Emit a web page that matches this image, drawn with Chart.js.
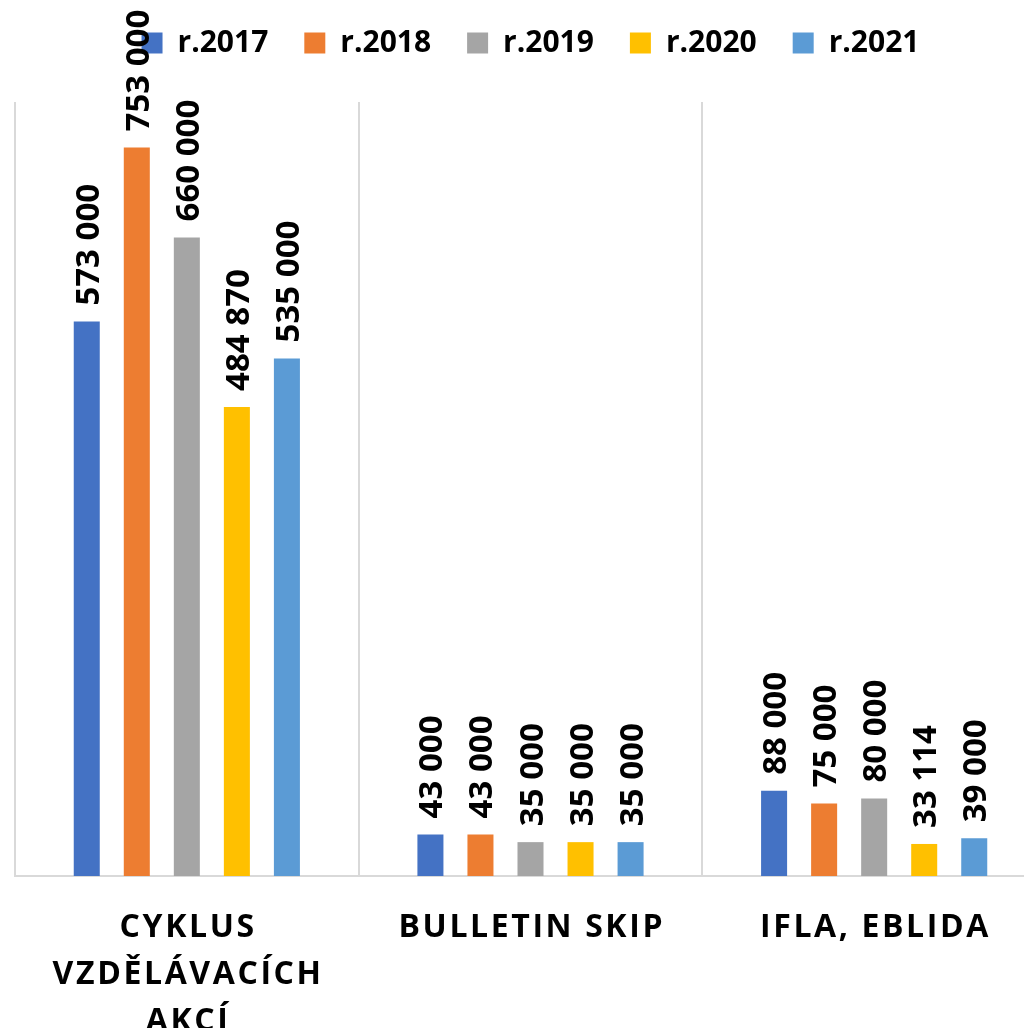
<!DOCTYPE html>
<html>
<head>
<meta charset="utf-8">
<script src="https://cdn.jsdelivr.net/npm/chart.js@4"></script>
<style>
  html, body { margin: 0; padding: 0; background: #fff; overflow: hidden; }
  #wrap { position: absolute; left: 0; top: 0; width: 1060px; height: 1028px; }
</style>
</head>
<body>
<div id="wrap"><canvas id="graf"></canvas></div>
<script>
// data
const kategorie = [['CYKLUS', 'VZDĚLÁVACÍCH', 'AKCÍ'], ['BULLETIN SKIP'], ['IFLA, EBLIDA']];
const roky = ['r.2017', 'r.2018', 'r.2019', 'r.2020', 'r.2021'];
const r2017 = [573000, 43000, 88000];
const r2018 = [753000, 43000, 75000];
const r2019 = [660000, 35000, 80000];
const r2020 = [484870, 35000, 33114];
const r2021 = [535000, 35000, 39000];
const barvy = ['#4472C4', '#ED7D31', '#A5A5A5', '#FFC000', '#5B9BD5'];

const hodnoty = [r2017, r2018, r2019, r2020, r2021];
const pismo = '"Open Sans", "DejaVu Sans", sans-serif';

function formatCislo(v) {
    return String(v).replace(/\B(?=(\d{3})+(?!\d))/g, ' ');
}

// vetsi mezera pod legendou
const mezeraLegendy = {
    id: 'mezeraLegendy',
    afterInit(chart) {
        const lg = chart.legend;
        if (!lg) return;
        const fit = lg.fit;
        lg.fit = function () {
            fit.call(this);
            this.height += 34;
        };
    }
};

// popisky hodnot nad sloupci (otocene o 90 st.)
const popiskyHodnot = {
    id: 'popiskyHodnot',
    afterDatasetsDraw(chart) {
        const ctx = chart.ctx;
        ctx.save();
        ctx.font = 'bold 33px ' + pismo;
        ctx.fillStyle = '#000';
        ctx.textAlign = 'left';
        ctx.textBaseline = 'alphabetic';
        const capH = 24;
        chart.data.datasets.forEach((ds, i) => {
            chart.getDatasetMeta(i).data.forEach((bar, j) => {
                ctx.save();
                ctx.translate(bar.x, bar.y - 16);
                ctx.rotate(-Math.PI / 2);
                ctx.fillText(formatCislo(ds.data[j]), 0, capH / 2);
                ctx.restore();
            });
        });
        ctx.restore();
    }
};

// popisky kategorii s prostrkanim
const popiskyOsy = {
    id: 'popiskyOsy',
    afterDraw(chart) {
        const ctx = chart.ctx;
        const x = chart.scales.x;
        ctx.save();
        ctx.font = 'bold 32px ' + pismo;
        ctx.fillStyle = '#000';
        ctx.textAlign = 'center';
        ctx.textBaseline = 'alphabetic';
        ctx.letterSpacing = '2.6px';
        kategorie.forEach((radky, i) => {
            const px = x.getPixelForValue(i);
            radky.forEach((t, k) => {
                ctx.fillText(t, px + 1.3, 937 + k * 47);
            });
        });
        ctx.restore();
    }
};

new Chart(document.getElementById('graf').getContext('2d'), {
    type: 'bar',
    data: {
        labels: kategorie.map(k => k.join(' ')),
        datasets: roky.map((rok, i) => ({
            label: rok,
            data: hodnoty[i],
            backgroundColor: barvy[i],
            borderWidth: 0,
            categoryPercentage: 0.728,
            barPercentage: 0.52
        }))
    },
    options: {
        responsive: true,
        maintainAspectRatio: false,
        animation: false,
        layout: {
            padding: { left: 15, right: 14, top: -8, bottom: 152 }
        },
        plugins: {
            legend: {
                position: 'top',
                labels: {
                    color: '#000',
                    font: { family: pismo, size: 30, weight: 'bold' },
                    boxWidth: 21,
                    boxHeight: 21,
                    padding: 36
                }
            },
            tooltip: { enabled: false }
        },
        scales: {
            x: {
                offset: true,
                grid: {
                    display: true,
                    offset: true,
                    color: '#d9d9d9',
                    lineWidth: 2,
                    drawTicks: false
                },
                border: { display: true, color: '#d9d9d9', width: 2 },
                ticks: { display: false }
            },
            y: {
                display: false,
                min: 0,
                max: 800000
            }
        }
    },
    plugins: [mezeraLegendy, popiskyHodnot, popiskyOsy]
});
</script>
</body>
</html>
